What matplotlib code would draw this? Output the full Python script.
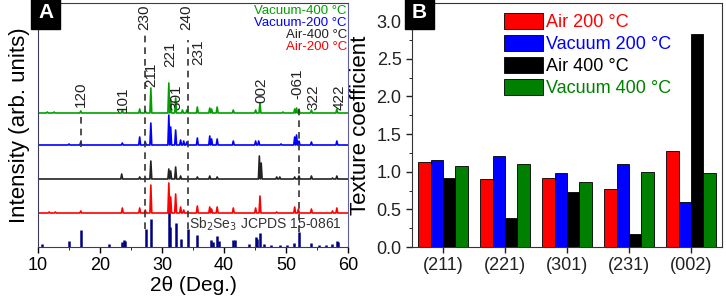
import numpy as np
import matplotlib
matplotlib.use('Agg')
import matplotlib.pyplot as plt

plt.rcParams['font.family'] = ['Liberation Sans', 'DejaVu Sans']

# ---- panel A: XRD patterns (peak position in 2theta, height in arbitrary units) ----
ref_pos = [10.6, 15.0, 16.9, 21.4, 23.6, 23.9, 24.1, 27.4, 28.2, 31.1, 31.3, 32.2, 33.0,
           34.2, 35.7, 37.9, 38.3, 38.9, 39.2, 41.4, 41.8, 44.0, 45.1, 45.4, 45.8, 46.5,
           47.6, 49.0, 50.2, 51.3, 52.1, 54.1, 55.3, 56.4, 57.5, 58.2, 58.4]
ref_int = [3, 6, 17, 3, 5, 7, 6, 18, 28, 38, 20, 24, 8,
           18, 12, 7, 5, 11, 6, 7, 7, 3, 10, 8, 14, 3,
           2, 2, 2, 4, 15, 4, 2, 2, 3, 6, 5]

red_pos = [11.8, 12.8, 16.9, 23.6, 26.4, 27.3, 28.2, 31.1, 31.4, 32.2, 33.0, 33.5,
           35.7, 37.7, 38.0, 38.9, 41.5, 45.1, 45.8, 48.5, 51.4, 52.0, 54.1, 57.5, 58.2]
red_int = [1, 1, 2, 5, 5, 3, 28, 30, 16, 19, 6, 3,
           7, 6, 4, 6, 5, 5, 17, 1, 6, 4, 4, 2, 5]

black_pos = [23.5, 26.4, 27.3, 28.2, 31.1, 31.4, 32.2, 33.0, 35.7, 37.7, 38.9,
             45.7, 46.0, 48.5, 49.0, 51.4, 52.1, 54.1, 57.5, 58.2]
black_int = [5, 2, 1, 18, 10, 8, 12, 3, 2, 3, 2,
             23, 16, 2, 2, 2, 3, 3, 1, 3]

blue_pos = [15.0, 16.9, 23.6, 26.4, 27.3, 28.2, 31.1, 31.4, 32.2, 33.0, 33.5, 34.0,
            35.7, 37.7, 38.0, 38.9, 41.5, 45.1, 45.6, 49.2, 51.4, 51.7, 52.1, 54.1, 58.2]
blue_int = [1, 3, 2, 8, 3, 22, 30, 18, 15, 5, 4, 3,
            7, 9, 6, 6, 4, 4, 4, 1, 8, 10, 4, 3, 4]

green_pos = [11.5, 12.6, 16.9, 23.6, 26.4, 27.3, 28.2, 31.1, 31.4, 32.2, 33.3, 34.0,
             35.7, 37.7, 38.0, 38.9, 41.5, 45.1, 45.8, 49.5, 51.4, 51.7, 52.1, 54.1, 58.2]
green_int = [1, 1, 2, 3, 4, 2, 25, 30, 14, 15, 3, 3,
             6, 5, 4, 6, 3, 3, 10, 1, 4, 5, 3, 3, 4]

traces = [(red_pos, red_int, '#ff0000', 34),
          (black_pos, black_int, '#222222', 68),
          (blue_pos, blue_int, '#0000ff', 102),
          (green_pos, green_int, '#00a000', 134)]

# (label, 2theta, label bottom)
peak_labels = [('120', 16.9, 140), ('101', 23.7, 135), ('211', 28.3, 160),
               ('221', 31.4, 180), ('301', 32.4, 137), ('231', 35.9, 182),
               ('002', 46.0, 144), ('-061', 51.9, 148), ('322', 54.5, 137),
               ('422', 58.6, 137), ('230', 27.1, 217), ('240', 33.9, 217)]
# (2theta, y from, y to)
guide_lines = [(16.9, 100, 132), (27.3, 18, 214), (34.2, 18, 207), (52.1, 15, 139)]

legend_a = [('Vacuum-400 °C', '#00a000'), ('Vacuum-200 °C', '#0000ff'),
            ('Air-400 °C', '#222222'), ('Air-200 °C', '#ff0000')]

# ---- panel B: texture coefficients ----
planes = ['(211)', '(221)', '(301)', '(231)', '(002)']
tc_air200 = [1.13, 0.90, 0.92, 0.77, 1.28]
tc_vac200 = [1.15, 1.21, 0.98, 1.10, 0.60]
tc_air400 = [0.91, 0.39, 0.73, 0.17, 2.83]
tc_vac400 = [1.08, 1.10, 0.86, 1.00, 0.98]


def peak_profile(pos, inten, w=0.15):
    """Builds a line through baseline and peak tops."""
    xs, ys = [10.0], [0.0]
    for p, h in sorted(zip(pos, inten)):
        xs += [p - w, p, p + w]
        ys += [0.0, h, 0.0]
    xs.append(60.0)
    ys.append(0.0)
    return np.array(xs), np.array(ys)


fig = plt.figure(figsize=(7.26, 3.0), dpi=100)
axA = fig.add_axes([38 / 726, 53 / 300, 310 / 726, 244 / 300])
axB = fig.add_axes([412 / 726, 53 / 300, 310 / 726, 244 / 300])

### panel A
axA.vlines(ref_pos, 0, ref_int, color='#000080', lw=1.8)
for pos, inten, c, base in traces:
    x, y = peak_profile(pos, inten)
    axA.plot(x, y + base, color=c, lw=1.2)
for x0, y0, y1 in guide_lines:
    axA.plot([x0, x0], [y0, y1], color='#333333', lw=1.2, dashes=(4, 3))
for lab, x0, yb in peak_labels:
    axA.text(x0, yb, lab, rotation=90, ha='center', va='bottom', fontsize=11, color='#222222')
for i, (lab, c) in enumerate(legend_a):
    axA.text(59.8, 236 - i * 12, lab, ha='right', va='center', fontsize=9.5, color=c)
axA.text(59.0, 23, 'Sb$_2$Se$_3$ JCPDS 15-0861', ha='right', va='center',
         fontsize=10, color='#333333')
axA.set_xlim(10, 60)
axA.set_ylim(0, 244)
axA.set_yticks([])
axA.set_xticks(np.arange(10, 61, 10))
axA.set_xticks(np.arange(15, 60, 10), minor=True)
axA.tick_params(axis='x', direction='out', labelsize=13, length=4, width=1)
axA.tick_params(axis='x', which='minor', direction='out', length=2.5)
axA.set_xlabel('2θ (Deg.)', fontsize=15, labelpad=1)
axA.set_ylabel('Intensity (arb. units)', fontsize=16, labelpad=6)
axA.text(0.0, 1.0, 'A', transform=axA.transAxes, ha='left', va='top', fontsize=15,
         fontweight='bold', color='white',
         bbox=dict(boxstyle='square,pad=0.35', fc='black', ec='black'))
for s in axA.spines.values():
    s.set_color('#3a3a5a')
axA.spines['right'].set_color('#6060a0')

### panel B
xb = np.arange(1, len(planes) + 1)
bw = 0.2
series = [(tc_air200, '#ff0000', 'Air 200 °C'),
          (tc_vac200, '#0000ff', 'Vacuum 200 °C'),
          (tc_air400, '#000000', 'Air 400 °C'),
          (tc_vac400, '#008000', 'Vacuum 400 °C')]
for k, (vals, c, lab) in enumerate(series):
    axB.bar(xb + (k - 1.5) * bw, vals, bw, color=c, edgecolor='black', lw=0.6, label=lab)
leg = axB.legend(loc='upper left', bbox_to_anchor=(0.255, 1.01), frameon=False, fontsize=13,
                 handlelength=2.2, handleheight=1.0, labelspacing=0.2, handletextpad=0.15,
                 borderpad=0.2)
for t, (_, c, _) in zip(leg.get_texts(), series):
    t.set_color(c)
axB.set_xlim(0.5, 5.5)
axB.set_ylim(0, 3.24)
axB.set_xticks(xb)
axB.set_xticklabels(planes)
axB.set_yticks(np.arange(0, 3.01, 0.5))
axB.set_yticks(np.arange(0.25, 3.1, 0.5), minor=True)
axB.tick_params(axis='both', direction='out', labelsize=13, length=4, width=1, colors='#222222')
axB.tick_params(axis='y', which='minor', direction='out', length=2.5)
axB.set_ylabel('Texture coefficient', fontsize=16, labelpad=4)
axB.text(0.0, 1.0, 'B', transform=axB.transAxes, ha='left', va='top', fontsize=15,
         fontweight='bold', color='white',
         bbox=dict(boxstyle='square,pad=0.35', fc='black', ec='black'))
for s in axB.spines.values():
    s.set_color('#333333')

fig.savefig('out.png', dpi=100)
